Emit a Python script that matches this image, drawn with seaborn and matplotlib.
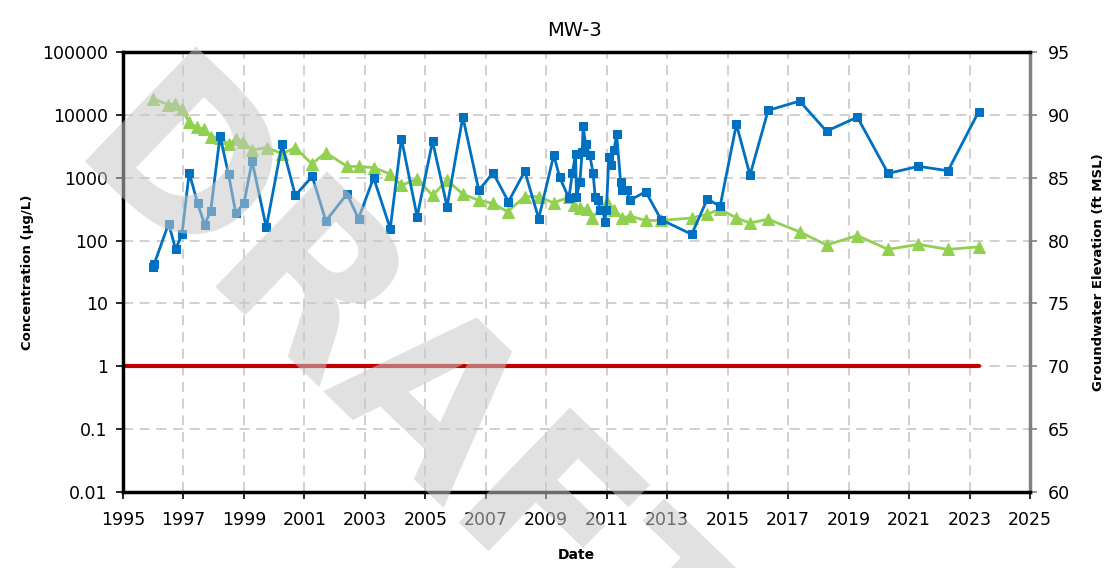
import pandas as pd
import seaborn as sns
import matplotlib.pyplot as plt
from matplotlib.ticker import FixedLocator, MultipleLocator, NullLocator

# concentration results (decimal year, ug/L)
conc_dates = [1996.0, 1996.03, 1996.51, 1996.74, 1996.95, 1997.19, 1997.47, 1997.7, 1997.9,
              1998.21, 1998.49, 1998.73, 1999.0, 1999.27, 1999.74, 2000.26, 2000.7, 2001.26,
              2001.71, 2002.41, 2002.79, 2003.29, 2003.84, 2004.21, 2004.73, 2005.24, 2005.72,
              2006.24, 2006.77, 2007.24, 2007.75, 2008.29, 2008.75, 2009.25, 2009.44, 2009.75,
              2009.86, 2009.97, 2010.0, 2010.11, 2010.19, 2010.22, 2010.3, 2010.44, 2010.55,
              2010.62, 2010.7, 2010.79, 2010.88, 2010.93, 2010.99, 2011.07, 2011.13, 2011.24,
              2011.33, 2011.46, 2011.51, 2011.66, 2011.77, 2012.29, 2012.8, 2013.81, 2014.33,
              2014.75, 2015.29, 2015.74, 2016.34, 2017.38, 2018.27, 2019.29, 2020.31, 2021.31,
              2022.29, 2023.3]
conc_vals = [38, 42, 187, 73, 125, 1200, 390, 180, 294,
             4600, 1140, 275, 390, 1830, 162, 3400, 522, 1050,
             206, 550, 224, 1000, 155, 4200, 240, 3800, 345,
             9300, 630, 1200, 415, 1270, 224, 2300, 1030, 470,
             1170, 2400, 490, 850, 2600, 6600, 3500, 2300, 1170,
             490, 440, 310, 310, 200, 310, 2140, 1580, 2750,
             4900, 850, 630, 630, 440, 600, 215, 126, 460,
             350, 7100, 1100, 11800, 16600, 5500, 9200, 1170, 1520,
             1290, 11200]

# groundwater elevation (decimal year, ft MSL)
gw_dates = [1996.0, 1996.5, 1996.72, 1996.94, 1997.19, 1997.44, 1997.68, 1997.9, 1998.21,
            1998.49, 1998.74, 1998.98, 1999.26, 1999.76, 2000.27, 2000.7, 2001.25, 2001.71,
            2002.41, 2002.79, 2003.29, 2003.84, 2004.21, 2004.73, 2005.24, 2005.72, 2006.24,
            2006.77, 2007.24, 2007.72, 2008.29, 2008.75, 2009.24, 2009.75, 2009.91, 2010.11,
            2010.35, 2010.52, 2011.0, 2011.24, 2011.51, 2011.77, 2012.29, 2012.8, 2013.81,
            2014.33, 2014.75, 2015.29, 2015.74, 2016.34, 2017.38, 2018.27, 2019.29, 2020.31,
            2021.31, 2022.29, 2023.3]
gw_elev = [91.3, 90.8, 90.9, 90.5, 89.4, 89.0, 88.85, 88.26, 88.2,
           87.66, 88.1, 87.87, 87.2, 87.4, 86.9, 87.4, 86.1, 87.0,
           85.9, 85.9, 85.8, 85.3, 84.4, 84.9, 83.6, 84.8, 83.7,
           83.2, 82.96, 82.3, 83.5, 83.5, 83.0, 83.45, 82.8, 82.6,
           82.5, 81.8, 83.1, 82.4, 81.8, 81.95, 81.6, 81.6, 81.8,
           82.1, 82.5, 81.8, 81.4, 81.7, 80.7, 79.65, 80.4, 79.3,
           79.7, 79.3, 79.5]

# screening level
sl_dates = [1995.0, 2023.3]
sl_vals = [1, 1]

conc_ticks = [0.01, 0.1, 1, 10, 100, 1000, 10000, 100000]
conc_labels = ["0.01", "0.1", "1", "10", "100", "1000", "10000", "100000"]
elev_ticks = [60, 65, 70, 75, 80, 85, 90, 95]
year_ticks = list(range(1995, 2026, 2))

sns.set_style("white")
plt.rcParams['font.family'] = ['DejaVu Sans']
plt.rcParams['text.color'] = 'black'

fig = plt.figure(figsize=(11.1, 5.68), dpi=100)
ax = fig.add_axes([0.1108, 0.1338, 0.8171, 0.7746])
ax2 = ax.twinx()
ax.set_zorder(2)
ax2.set_zorder(1)
ax.patch.set_visible(False)

blue = "#0070C0"
green = "#92D050"
red = "#C00000"

sns.lineplot(x=gw_dates, y=gw_elev, ax=ax2, color=green, marker="^", markersize=8,
             markeredgecolor=green, linewidth=2, estimator=None, sort=False)
sns.lineplot(x=sl_dates, y=sl_vals, ax=ax, color=red, linewidth=3, estimator=None)
sns.lineplot(x=conc_dates, y=conc_vals, ax=ax, color=blue, marker="s", markersize=6,
             markeredgecolor=blue, linewidth=2, estimator=None, sort=False)

ax.set_yscale("log")
ax.set_ylim(0.01, 100000)
ax2.set_ylim(60, 95)
ax.set_xlim(1995, 2025)

ax.yaxis.set_major_locator(FixedLocator(conc_ticks))
ax.set_yticklabels(conc_labels)
ax.yaxis.set_minor_locator(NullLocator())
ax.xaxis.set_major_locator(FixedLocator(year_ticks))
ax.set_xticklabels([str(y) for y in year_ticks])
ax.xaxis.set_minor_locator(MultipleLocator(1))
ax2.yaxis.set_major_locator(FixedLocator(elev_ticks))

# grid on the back axes so it sits under the lines
ax.grid(False)
ax2.grid(False)
for yv in elev_ticks[1:-1]:
    ax2.axhline(yv, color="#c8c8c8", linestyle=(0, (6, 4)), linewidth=1.2, zorder=0)
for xv in year_ticks[1:-1]:
    ax2.axvline(xv, color="#c8c8c8", linestyle=(0, (6, 4)), linewidth=1.2, zorder=0)

for side in ["top", "bottom", "left"]:
    ax.spines[side].set_color("black")
    ax.spines[side].set_linewidth(2.5)
ax.spines["right"].set_visible(False)
for side in ["top", "bottom", "left"]:
    ax2.spines[side].set_visible(False)
ax2.spines["right"].set_color("#808080")
ax2.spines["right"].set_linewidth(2.5)

ax.tick_params(axis="both", which="major", direction="out", length=5, width=1.2,
               labelsize=12.5, colors="black", pad=6)
ax.tick_params(axis="x", which="minor", direction="out", length=4, width=1.2)
ax.tick_params(axis="x", which="major", pad=9)
ax.tick_params(left=True, bottom=True)
ax2.tick_params(axis="y", direction="out", length=5, width=1.2, color="#808080",
                labelcolor="black", labelsize=12.5, pad=8, right=True)

ax.set_xlabel("Date", fontweight="bold", fontsize=10, color="black")
ax.xaxis.set_label_coords(0.5, -0.128)
ax.set_ylabel("Concentration (µg/L)", fontweight="bold", fontsize=9.5, color="black")
ax.yaxis.set_label_coords(-0.098, 0.5)
ax2.set_ylabel("Groundwater Elevation (ft MSL)", fontweight="bold", fontsize=9.5,
               color="black")
ax2.yaxis.set_label_coords(1.068, 0.5)

fig.text(0.518, 0.947, "MW-3", ha="center", va="center", fontsize=14, color="black")

# DRAFT watermark over everything, anchored at the start of its baseline
fig.text(0.0577, 0.7165, "DRAFT", rotation=-44, rotation_mode="anchor", ha="left",
         va="baseline", fontsize=158, fontweight="bold", color="#c8c8c8", alpha=0.55,
         zorder=10)

fig.savefig("out.png", dpi=100)
